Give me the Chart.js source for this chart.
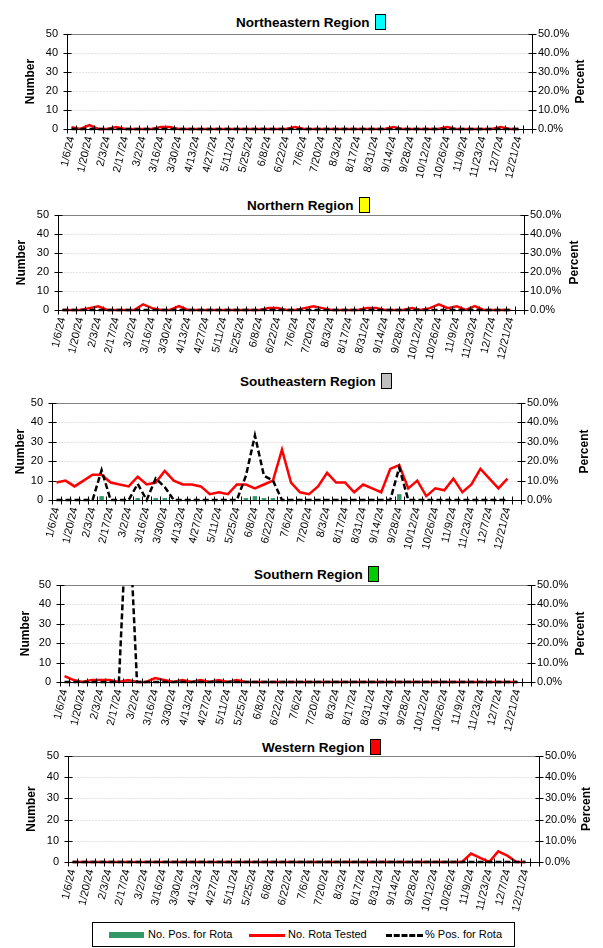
<!DOCTYPE html>
<html><head><meta charset="utf-8">
<script src="https://cdn.jsdelivr.net/npm/chart.js@4.4.1/dist/chart.umd.min.js"></script>
<style>
html,body{margin:0;padding:0;background:#fff}
body{width:603px;height:948px;position:relative;overflow:hidden;font-family:"Liberation Sans",Arial,sans-serif}
canvas.layer{position:absolute;left:0;top:0;pointer-events:none}
.title{position:absolute;font-weight:bold;font-size:13.5px;line-height:16px;white-space:pre;color:#000}
.box{display:inline-block;width:9px;height:14px;border:1px solid #000;vertical-align:-3px;margin-left:5px}
#legend{position:absolute;left:92px;top:922px;width:421px;height:23px;border:1px solid #000;font-size:11px}
#legend .it{position:absolute;top:5px;line-height:13px}
#legend .sw{position:absolute}
</style>
</head><body>
<div id="titles"></div>
<div id="legend">
  <div class="sw" style="left:16px;top:9px;width:35px;height:6px;background:#339966"></div>
  <div class="it" style="left:55px">No. Pos. for Rota</div>
  <div class="sw" style="left:156px;top:11px;width:36px;height:0;border-top:3px solid #ff0000"></div>
  <div class="it" style="left:195px">No. Rota Tested</div>
  <div class="sw" style="left:293px;top:11px;width:37px;height:0;border-top:3px dashed #000"></div>
  <div class="it" style="left:332px">% Pos. for Rota</div>
</div>
<script>
// ---------------- DATA ----------------
const weeks = ["1/6/24","1/13/24","1/20/24","1/27/24","2/3/24","2/10/24","2/17/24","2/24/24","3/2/24","3/9/24",
"3/16/24","3/23/24","3/30/24","4/6/24","4/13/24","4/20/24","4/27/24","5/4/24","5/11/24","5/18/24",
"5/25/24","6/1/24","6/8/24","6/15/24","6/22/24","6/29/24","7/6/24","7/13/24","7/20/24","7/27/24",
"8/3/24","8/10/24","8/17/24","8/24/24","8/31/24","9/7/24","9/14/24","9/21/24","9/28/24","10/5/24",
"10/12/24","10/19/24","10/26/24","11/2/24","11/9/24","11/16/24","11/23/24","11/30/24","12/7/24","12/14/24",
"12/21/24","12/28/24"];

const regionNames = ["Northeastern Region","Northern Region","Southeastern Region","Southern Region","Western Region"];
const regionColors = ["#00ffff","#ffff00","#c0c0c0","#00cc00","#ff0000"];
const numberTicks = [0,10,20,30,40,50];
const percentTicks = ["0.0%","10.0%","20.0%","30.0%","40.0%","50.0%"];

// Northeastern
const neTested = [1,0,2,0,0,1,0,0,0,0, 1,1,0,0,0,0,0,0,0,0, 0,0,0,0,0,1,0,0,0,0, 0,0,0,0,0,0,1,0,0,0, 0,0,1,0,0,0,0,0,1,0, 0,null];
const nePos    = [0,0,0,0,0,0,0,0,0,0, 0,0,0,0,0,0,0,0,0,0, 0,0,0,0,0,0,0,0,0,0, 0,0,0,0,0,0,0,0,0,0, 0,0,0,0,0,0,0,0,0,0, 0,null];
const nePct    = [0,0,0,0,0,0,0,0,0,0, 0,0,0,0,0,0,0,0,0,0, 0,0,0,0,0,0,0,0,0,0, 0,0,0,0,0,0,0,0,0,0, 0,0,0,0,0,0,0,0,0,0, 0,null];
// Northern
const nTested = [0,0,0,1,2,0,0,0,0,3, 1,0,0,2,0,0,0,0,0,0, 0,0,0,1,1,0,0,1,2,1, 0,0,0,0,1,1,0,0,0,1, 0,1,3,1,2,0,2,0,0,0, 0,null];
const nPos    = [0,0,0,0,0,0,0,0,0,0, 0,0,0,0,0,0,0,0,0,0, 0,0,0,0,0,0,0,0,0,0, 0,0,0,0,0,0,0,0,0,0, 0,0,0,0,0,0,0,0,0,0, 0,null];
const nPct    = [0,0,0,0,0,0,0,0,0,0, 0,0,0,0,0,0,0,0,0,0, 0,0,0,0,0,0,0,0,0,0, 0,0,0,0,0,0,0,0,0,0, 0,0,0,0,0,0,0,0,0,0, 0,null];
// Southeastern
const seTested = [9,10,7,10,13,13,9,8,7,12, 8,9,15,10,8,8,7,3,4,3, 8,8,6,8,10,26,9,4,3,7, 14,9,9,4,8,6,4,16,18,6, 10,2,6,5,11,4,8,16,11,6, 11,null];
const sePos    = [0,0,0,0,0,2,0,0,0,1, 0,1,1,0,0,0,0,0,0,0, 0,1,2,1,1,0,0,0,0,0, 0,0,0,0,0,0,0,0,3,0, 0,0,0,0,0,0,0,0,0,0, 0,null];
const sePct    = [0,0,0,0,0,15.4,0,0,0,8.3, 0,11.1,6.7,0,0,0,0,0,0,0, 0,12.5,33.3,12.5,10.0,0,0,0,0,0, 0,0,0,0,0,0,0,0,16.7,0, 0,0,0,0,0,0,0,0,0,0, 0,null];
// Southern
const sTested = [3,1,0,1,1,1,0,1,0,0, 2,1,0,1,0,1,0,1,0,1, 0,0,0,0,0,0,0,0,0,0, 0,0,0,0,0,0,0,0,0,0, 0,0,0,0,0,0,0,0,0,0, 0,null];
const sPos    = [0,0,0,0,0,0,0,1,0,0, 0,0,0,0,0,0,0,0,0,0, 0,0,0,0,0,0,0,0,0,0, 0,0,0,0,0,0,0,0,0,0, 0,0,0,0,0,0,0,0,0,0, 0,null];
const sPct    = [0,0,0,0,0,0,0,100,0,0, 0,0,0,0,0,0,0,0,0,0, 0,0,0,0,0,0,0,0,0,0, 0,0,0,0,0,0,0,0,0,0, 0,0,0,0,0,0,0,0,0,0, 0,null];
// Western
const wTested = [0,0,0,0,0,0,0,0,0,0, 0,0,0,0,0,0,0,0,0,0, 0,0,0,0,0,0,0,0,0,0, 0,0,0,0,0,0,0,0,0,0, 0,0,0,0,4,2,0,5,3,0, 0,null];
const wPos    = [0,0,0,0,0,0,0,0,0,0, 0,0,0,0,0,0,0,0,0,0, 0,0,0,0,0,0,0,0,0,0, 0,0,0,0,0,0,0,0,0,0, 0,0,0,0,0,0,0,0,0,0, 0,null];
const wPct    = [0,0,0,0,0,0,0,0,0,0, 0,0,0,0,0,0,0,0,0,0, 0,0,0,0,0,0,0,0,0,0, 0,0,0,0,0,0,0,0,0,0, 0,0,0,0,0,0,0,0,0,0, 0,null];

const testedSeries = [neTested, nTested, seTested, sTested, wTested];
const posSeries = [nePos, nPos, sePos, sPos, wPos];
const pctSeries = [nePct, nPct, sePct, sPct, wPct];

// ---------------- LAYOUT ----------------
const W = 603, H = 948;
const panels = [
  {L:67, R:532, T:34,  B:129, titleX:236, titleY:22,  numX:31, pctX:581},
  {L:58, R:524, T:215, B:310, titleX:247, titleY:205, numX:22, pctX:575},
  {L:52, R:521, T:403, B:500, titleX:240, titleY:381, numX:21, pctX:585},
  {L:60, R:531, T:585, B:682, titleX:254, titleY:574, numX:26, pctX:581},
  {L:68, R:539, T:756, B:862, titleX:262, titleY:747, numX:32, pctX:587}
];
const FONT = '"Liberation Sans", Arial, sans-serif';

const framePlugin = {
  id: 'frame',
  beforeDatasetsDraw(chart, args, opts) {
    const {ctx, chartArea: a, scales} = chart;
    const y = scales.y;
    ctx.save();
    ctx.lineWidth = 1;
    ctx.strokeStyle = '#e2e2e2';
    ctx.setLineDash([2, 1]);
    for (const v of numberTicks) {
      if (v === 0 || v === 50) continue;
      const py = Math.round(y.getPixelForValue(v)) + 0.5;
      ctx.beginPath(); ctx.moveTo(a.left, py); ctx.lineTo(a.right, py); ctx.stroke();
    }
    ctx.setLineDash([]);
    ctx.strokeStyle = '#808080';
    const pt = Math.round(y.getPixelForValue(50)) + 0.5;
    ctx.beginPath(); ctx.moveTo(a.left, pt); ctx.lineTo(a.right, pt); ctx.stroke();
    ctx.restore();
  },
  afterDatasetsDraw(chart, args, opts) {
    const {ctx, chartArea: a, scales} = chart;
    const x = scales.x, y = scales.y;
    ctx.save();
    ctx.strokeStyle = '#000';
    ctx.lineWidth = 1;
    const lx = Math.round(a.left) + 0.5, rx = Math.round(a.right) + 0.5;
    const by = Math.round(y.getPixelForValue(0)) + 0.5;
    ctx.beginPath();
    ctx.moveTo(lx, a.top); ctx.lineTo(lx, by);
    ctx.moveTo(rx, a.top); ctx.lineTo(rx, by);
    ctx.moveTo(a.left, by); ctx.lineTo(a.right, by);
    for (const v of numberTicks) {
      const py = Math.round(y.getPixelForValue(v)) + 0.5;
      ctx.moveTo(lx - 4, py); ctx.lineTo(lx + 4, py);
      ctx.moveTo(rx - 4, py); ctx.lineTo(rx + 4, py);
    }
    const step = x.getPixelForValue(1) - x.getPixelForValue(0);
    for (let i = 0; i <= weeks.length; i++) {
      const px = Math.round(x.getPixelForValue(i) - step / 2) + 0.5;
      ctx.moveTo(px, by - 4); ctx.lineTo(px, by + 4);
    }
    ctx.stroke();
    // axis titles
    ctx.fillStyle = '#000';
    ctx.font = 'bold 12px ' + FONT;
    ctx.textAlign = 'center';
    ctx.textBaseline = 'middle';
    const cy = (a.top + a.bottom) / 2;
    for (const [t, px] of [['Number', opts.numX], ['Percent', opts.pctX]]) {
      ctx.save();
      ctx.translate(px, cy);
      ctx.rotate(-Math.PI / 2);
      ctx.fillText(t, 0, 0);
      ctx.restore();
    }
    ctx.restore();
  }
};

const titles = document.getElementById('titles');

panels.forEach((p, k) => {
  const t = document.createElement('div');
  t.className = 'title';
  t.style.left = p.titleX + 'px';
  t.style.top = (p.titleY - 8) + 'px';
  t.innerHTML = regionNames[k] + '<span class="box" style="background:' + regionColors[k] + '"></span>';
  titles.appendChild(t);

  const cv = document.createElement('canvas');
  cv.className = 'layer';
  cv.width = W; cv.height = H;
  document.body.appendChild(cv);
  const XH = 55;
  new Chart(cv.getContext('2d'), {
    type: 'bar',
    data: {
      labels: weeks,
      datasets: [
        {type: 'line', label: '% Pos. for Rota', data: pctSeries[k], yAxisID: 'y2',
         borderColor: '#000', borderWidth: 2.5, borderDash: [6, 3], pointRadius: 0, tension: 0,
         clip: {left: 5, right: 5, top: 0, bottom: 5}, order: 0},
        {type: 'line', label: 'No. Rota Tested', data: testedSeries[k], yAxisID: 'y',
         borderColor: '#ff0000', borderWidth: 2.5, pointRadius: 0, tension: 0,
         clip: {left: 5, right: 5, top: 0, bottom: 5}, order: 1},
        {type: 'bar', label: 'No. Pos. for Rota', data: posSeries[k], yAxisID: 'y',
         backgroundColor: '#339966', barPercentage: 0.5, categoryPercentage: 1.0, order: 2}
      ]
    },
    options: {
      responsive: false, animation: false, devicePixelRatio: 1,
      layout: {padding: {left: 0, right: 0, top: p.T, bottom: H - p.B - XH}},
      plugins: {legend: {display: false}, tooltip: {enabled: false}, title: {display: false},
                frame: {numX: p.numX, pctX: p.pctX}},
      scales: {
        x: {
          grid: {display: false, drawTicks: false}, border: {display: false},
          ticks: {autoSkip: false, minRotation: 77, maxRotation: 77, padding: 6,
                  color: '#000', font: {family: FONT, size: 11},
                  callback: (v, i) => (i % 2 === 0 ? weeks[i] : '')},
          afterFit: s => { s.height = XH; }
        },
        y: {
          position: 'left', min: 0, max: 50,
          grid: {display: false, drawTicks: false}, border: {display: false},
          ticks: {stepSize: 10, padding: 9, color: '#000', font: {family: FONT, size: 11},
                  callback: v => numberTicks.includes(v) ? String(v) : ''},
          afterFit: s => { s.width = p.L; }
        },
        y2: {
          position: 'right', min: 0, max: 50,
          grid: {display: false, drawTicks: false}, border: {display: false},
          ticks: {stepSize: 10, padding: 6, color: '#000', font: {family: FONT, size: 11},
                  callback: v => { const i = numberTicks.indexOf(v); return i >= 0 ? percentTicks[i] : ''; }},
          afterFit: s => { s.width = W - p.R; }
        }
      }
    },
    plugins: [framePlugin]
  });
});
</script>
</body></html>
